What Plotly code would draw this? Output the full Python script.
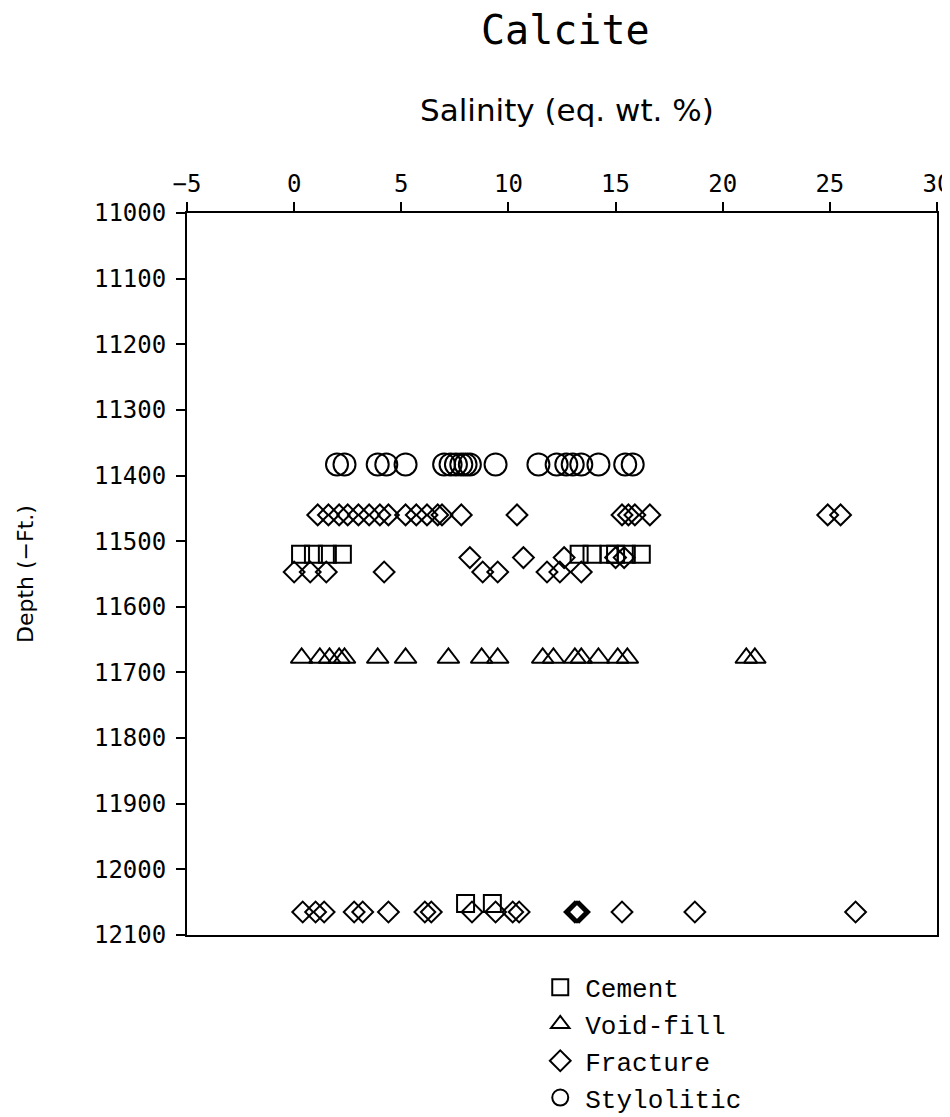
import plotly.graph_objects as go

# ---- data (salinity eq. wt. %, depth ft) ----
cement_salinity = [0.3, 0.9, 1.55, 2.25, 13.3, 13.9, 14.7, 15.0, 15.5, 16.2, 8.0, 9.25]
cement_depth = [11520, 11520, 11520, 11520, 11520, 11520, 11520, 11520, 11520, 11520, 12052, 12052]

voidfill_salinity = [0.35, 1.2, 1.65, 2.1, 2.35, 3.9, 5.2, 7.2, 8.75, 9.5,
                     11.6, 12.1, 13.1, 13.4, 14.2, 15.1, 15.55, 21.1, 21.5]
voidfill_depth = [11678, 11678, 11678, 11678, 11678, 11678, 11678, 11678, 11678, 11678,
                  11678, 11678, 11678, 11678, 11678, 11678, 11678, 11678, 11678]

fracture_salinity = [1.1, 1.6, 2.1, 2.5, 3.0, 3.5, 4.0, 4.4, 5.2, 5.7, 6.2, 6.7, 6.9, 7.8,
                     10.4, 15.3, 15.6, 15.9, 16.6, 24.9, 25.5,
                     8.2, 10.7, 12.6, 15.0, 15.4,
                     0.0, 0.75, 1.5, 4.2, 8.8, 9.5, 11.8, 12.4, 13.4,
                     0.4, 1.0, 1.4, 2.8, 3.2, 4.4, 6.1, 6.4, 8.3, 9.4, 10.2, 10.5,
                     13.1, 13.2, 13.3, 15.3, 18.7, 26.2]
fracture_depth = [11460, 11460, 11460, 11460, 11460, 11460, 11460, 11460, 11460, 11460, 11460, 11460, 11460, 11460,
                  11460, 11460, 11460, 11460, 11460, 11460, 11460,
                  11525, 11525, 11525, 11525, 11525,
                  11547, 11547, 11547, 11547, 11547, 11547, 11547, 11547, 11547,
                  12065, 12065, 12065, 12065, 12065, 12065, 12065, 12065, 12065, 12065, 12065, 12065,
                  12065, 12065, 12065, 12065, 12065, 12065]

stylolitic_salinity = [2.0, 2.35, 3.9, 4.3, 5.2, 7.0, 7.3, 7.55, 7.8, 8.0, 8.2, 9.4,
                       11.4, 12.25, 12.7, 13.0, 13.4, 14.2, 15.45, 15.8]
stylolitic_depth = [11383, 11383, 11383, 11383, 11383, 11383, 11383, 11383, 11383, 11383, 11383, 11383,
                    11383, 11383, 11383, 11383, 11383, 11383, 11383, 11383]

x_ticks = [-5, 0, 5, 10, 15, 20, 25, 30]
y_ticks = [11000, 11100, 11200, 11300, 11400, 11500, 11600, 11700, 11800, 11900, 12000, 12100]

TICKFONT = dict(family="DejaVu Sans Mono", size=24, color="black")
LEGFONT = dict(family="Liberation Mono", size=26, color="black")

fig = go.Figure()

series = [
    ("Cement", cement_salinity, cement_depth, "square-open", 17),
    ("Void-fill", voidfill_salinity, voidfill_depth, "triangle-up-open", 19),
    ("Fracture", fracture_salinity, fracture_depth, "diamond-open", 16),
    ("Stylolitic", stylolitic_salinity, stylolitic_depth, "circle-open", 22),
]
for name, xs, ys, sym, sz in series:
    fig.add_trace(go.Scatter(
        x=xs, y=ys, mode="markers", name=name,
        marker=dict(symbol=sym, size=sz, color="black", line=dict(color="black", width=2)),
    ))

# page body has an 8px margin, so the figure is shifted to compensate
fig.update_layout(
    width=950, height=1109,
    margin=dict(l=179, r=21, t=205, b=182, autoexpand=False),
    plot_bgcolor="white", paper_bgcolor="white",
    showlegend=True,
    legend=dict(xref="container", yref="container", x=0.555, y=0.1382,
                xanchor="left", yanchor="top", itemwidth=40,
                font=LEGFONT, bgcolor="rgba(0,0,0,0)"),
    annotations=[
        dict(text="Calcite", xref="paper", yref="paper", x=0.5, y=1, xshift=3, yshift=183,
             showarrow=False, font=dict(family="DejaVu Sans Mono", size=40, color="black"),
             xanchor="center", yanchor="middle"),
        dict(text="Salinity (eq. wt. %)", xref="paper", yref="paper", x=0.5, y=1, xshift=5, yshift=103,
             showarrow=False, font=dict(family="DejaVu Sans", size=31, color="black"),
             xanchor="center", yanchor="middle"),
        dict(text="Depth (\u2212Ft.)", xref="paper", yref="paper", x=0, y=0.5, xshift=-162, yshift=0,
             textangle=-90, showarrow=False, font=dict(family="DejaVu Sans", size=22, color="black"),
             xanchor="center", yanchor="middle"),
    ],
)

fig.update_xaxes(
    side="top", range=[-5, 30], tickvals=x_ticks,
    ticktext=[("\u2212" + str(-v)) if v < 0 else str(v) for v in x_ticks],
    showline=True, linecolor="black", linewidth=2, mirror=True,
    ticks="outside", ticklen=9, tickwidth=2, tickcolor="black",
    tickfont=TICKFONT, showgrid=False, zeroline=False, ticklabelstandoff=0,
    ticklabeloverflow="allow",
)
fig.update_yaxes(
    range=[12100, 11000], tickvals=y_ticks, ticktext=[str(v) for v in y_ticks],
    showline=True, linecolor="black", linewidth=2, mirror=True,
    ticks="outside", ticklen=9, tickwidth=2, tickcolor="black",
    tickfont=TICKFONT, showgrid=False, zeroline=False, ticklabelstandoff=5,
)

fig.write_html("out.html")
